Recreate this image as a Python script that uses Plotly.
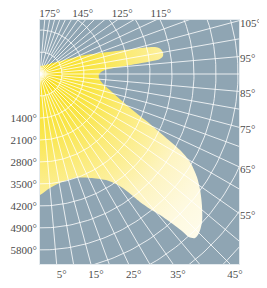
import numpy as np
import plotly.graph_objects as go

# ---------------- data ----------------
# outline of the filled shape in polar form (angle measured from "down", counter-clockwise)
shape_angle = [241.9, 180.0, 123.0, 114.2, 109.3, 105.8, 104.2, 103.2, 102.0, 100.1,
               98.3, 96.9, 96.5, 95.4, 93.5, 90.0, 86.1, 81.0, 76.0, 71.8,
               68.2, 65.6, 63.3, 61.5, 59.6, 56.7, 54.1, 51.0, 47.6, 45.0,
               43.4, 42.4, 42.1, 41.3, 40.4, 39.2, 38.0, 36.7, 35.1, 31.9,
               25.7, 18.6, 11.5, 5.0, 0.0, -6.7]
shape_radius = [540, 255, 760, 1400, 2020, 2810, 3450, 3760, 3900, 3970,
                3955, 3815, 3520, 2720, 2070, 1880, 1880, 2030, 2360, 2750,
                3255, 3845, 4455, 5070, 5535, 5975, 6290, 6630, 6980, 7155,
                7180, 7025, 6735, 6270, 5895, 5540, 5165, 4685, 4320, 3975,
                3670, 3490, 3505, 3640, 3850, 4100]

ring_values = [700, 1400, 2100, 2800, 3500, 4200, 4900, 5600, 6300, 7000, 7700, 8400, 9100]
major_spokes = [5, 15, 25, 35, 45, 55, 65, 75, 85, 95, 105, 115, 125, 135, 145, 155, 165, 175]
minor_spokes = [10, 20, 30, 40, 50, 60, 70, 80, 90, 100, 110, 120, 130, 140, 150, 160, 170]

bottom_angles = [5, 15, 25, 35, 45]
right_angles = [55, 65, 75, 85, 95, 105]
top_angles = [115, 125, 145, 175]
radial_tick_values = [1400, 2100, 2800, 3500, 4200, 4900, 5600]
radial_tick_text = ["1400°", "2100°", "2800°", "3500°", "4200°", "4900°", "5800°"]

# ---------------- geometry ----------------
PX = 700 / 22.0          # data units per pixel
X_MAX = 199 * PX
Y_TOP = 54 * PX
Y_BOT = -190 * PX
R_GRAD = 235 * PX        # radius of the radial colour fade


def to_xy(angle_deg, radius):
    a = np.radians(np.asarray(angle_deg, dtype=float))
    r = np.asarray(radius, dtype=float)
    return r * np.sin(a), -r * np.cos(a)


sx, sy = to_xy(shape_angle, shape_radius)
# tiny off-plot anchors so the radial fade is centred on the pole
eps = 5.0
fx = list(sx) + [None, -R_GRAD, -R_GRAD + eps, -R_GRAD, None, R_GRAD, R_GRAD - eps, R_GRAD]
fy = list(sy) + [None, R_GRAD, R_GRAD, R_GRAD - eps, None, -R_GRAD, -R_GRAD, -R_GRAD + eps]

# grid
theta_fine = np.arange(-10, 191, 1.0)
gx, gy = [], []
for rv in ring_values:
    x, y = to_xy(theta_fine, np.full_like(theta_fine, rv))
    gx += list(x) + [None]
    gy += list(y) + [None]
for a in major_spokes:
    x, y = to_xy([a, a], [0, 10000])
    gx += list(x) + [None]
    gy += list(y) + [None]
for a in minor_spokes:
    x, y = to_xy([a, a], [ring_values[0], 10000])
    gx += list(x) + [None]
    gy += list(y) + [None]

fig = go.Figure()
fig.add_trace(go.Scatter(
    x=fx, y=fy, mode="lines", fill="toself",
    line=dict(width=0, shape="spline", smoothing=0.8),
    fillgradient=dict(type="radial", colorscale=[
        [0.0, "#f6da0e"], [0.09, "#f8e02a"], [0.25, "#f9e64c"],
        [0.4, "#fbeb7a"], [0.52, "#fcef98"], [0.65, "#fdf4c0"],
        [0.82, "#fef9de"], [1.0, "#fefcee"]]),
    hoverinfo="skip", showlegend=False))
fig.add_trace(go.Scatter(
    x=gx, y=gy, mode="lines",
    line=dict(color="rgba(255,255,255,0.8)", width=1),
    hoverinfo="skip", showlegend=False))
fig.add_trace(go.Scatter(x=[None], y=[None], xaxis="x2", yaxis="y2",
                         hoverinfo="skip", showlegend=False))

bottom_vals = [-Y_BOT * np.tan(np.radians(a)) for a in bottom_angles]
top_vals = [-Y_TOP * np.tan(np.radians(a)) for a in top_angles]
right_vals = [-X_MAX * np.cos(np.radians(a)) / np.sin(np.radians(a)) for a in right_angles]

font = dict(family="Liberation Serif", size=11, color="#4a4a4a")
common = dict(showgrid=False, zeroline=False, ticks="", fixedrange=True,
              automargin=False, tickfont=font)

fig.update_layout(
    width=259, height=280, autosize=False,
    margin=dict(l=32, r=28, t=12, b=24, pad=0, autoexpand=False),
    paper_bgcolor="white", plot_bgcolor="#8fa5b3",
    showlegend=False,
    xaxis=dict(range=[0, X_MAX], tickvals=bottom_vals,
               ticktext=[f"{a}°" for a in bottom_angles], ticklabelshift=5,
               showline=True, linecolor="#e4eaee", linewidth=1, mirror=True, **common),
    yaxis=dict(range=[Y_BOT, Y_TOP], tickvals=[-v for v in radial_tick_values],
               ticktext=radial_tick_text,
               showline=True, linecolor="#e4eaee", linewidth=1, mirror=True, **common),
    xaxis2=dict(range=[0, X_MAX], overlaying="x", side="top", tickvals=top_vals,
                ticktext=[f"{a}°" for a in top_angles], ticklabelshift=5, **common),
    yaxis2=dict(range=[Y_BOT, Y_TOP], overlaying="y", side="right", tickvals=right_vals,
                ticktext=[f"{a}°" for a in right_angles], ticklabelshift=2, **common),
)

fig.write_html("out.html")
